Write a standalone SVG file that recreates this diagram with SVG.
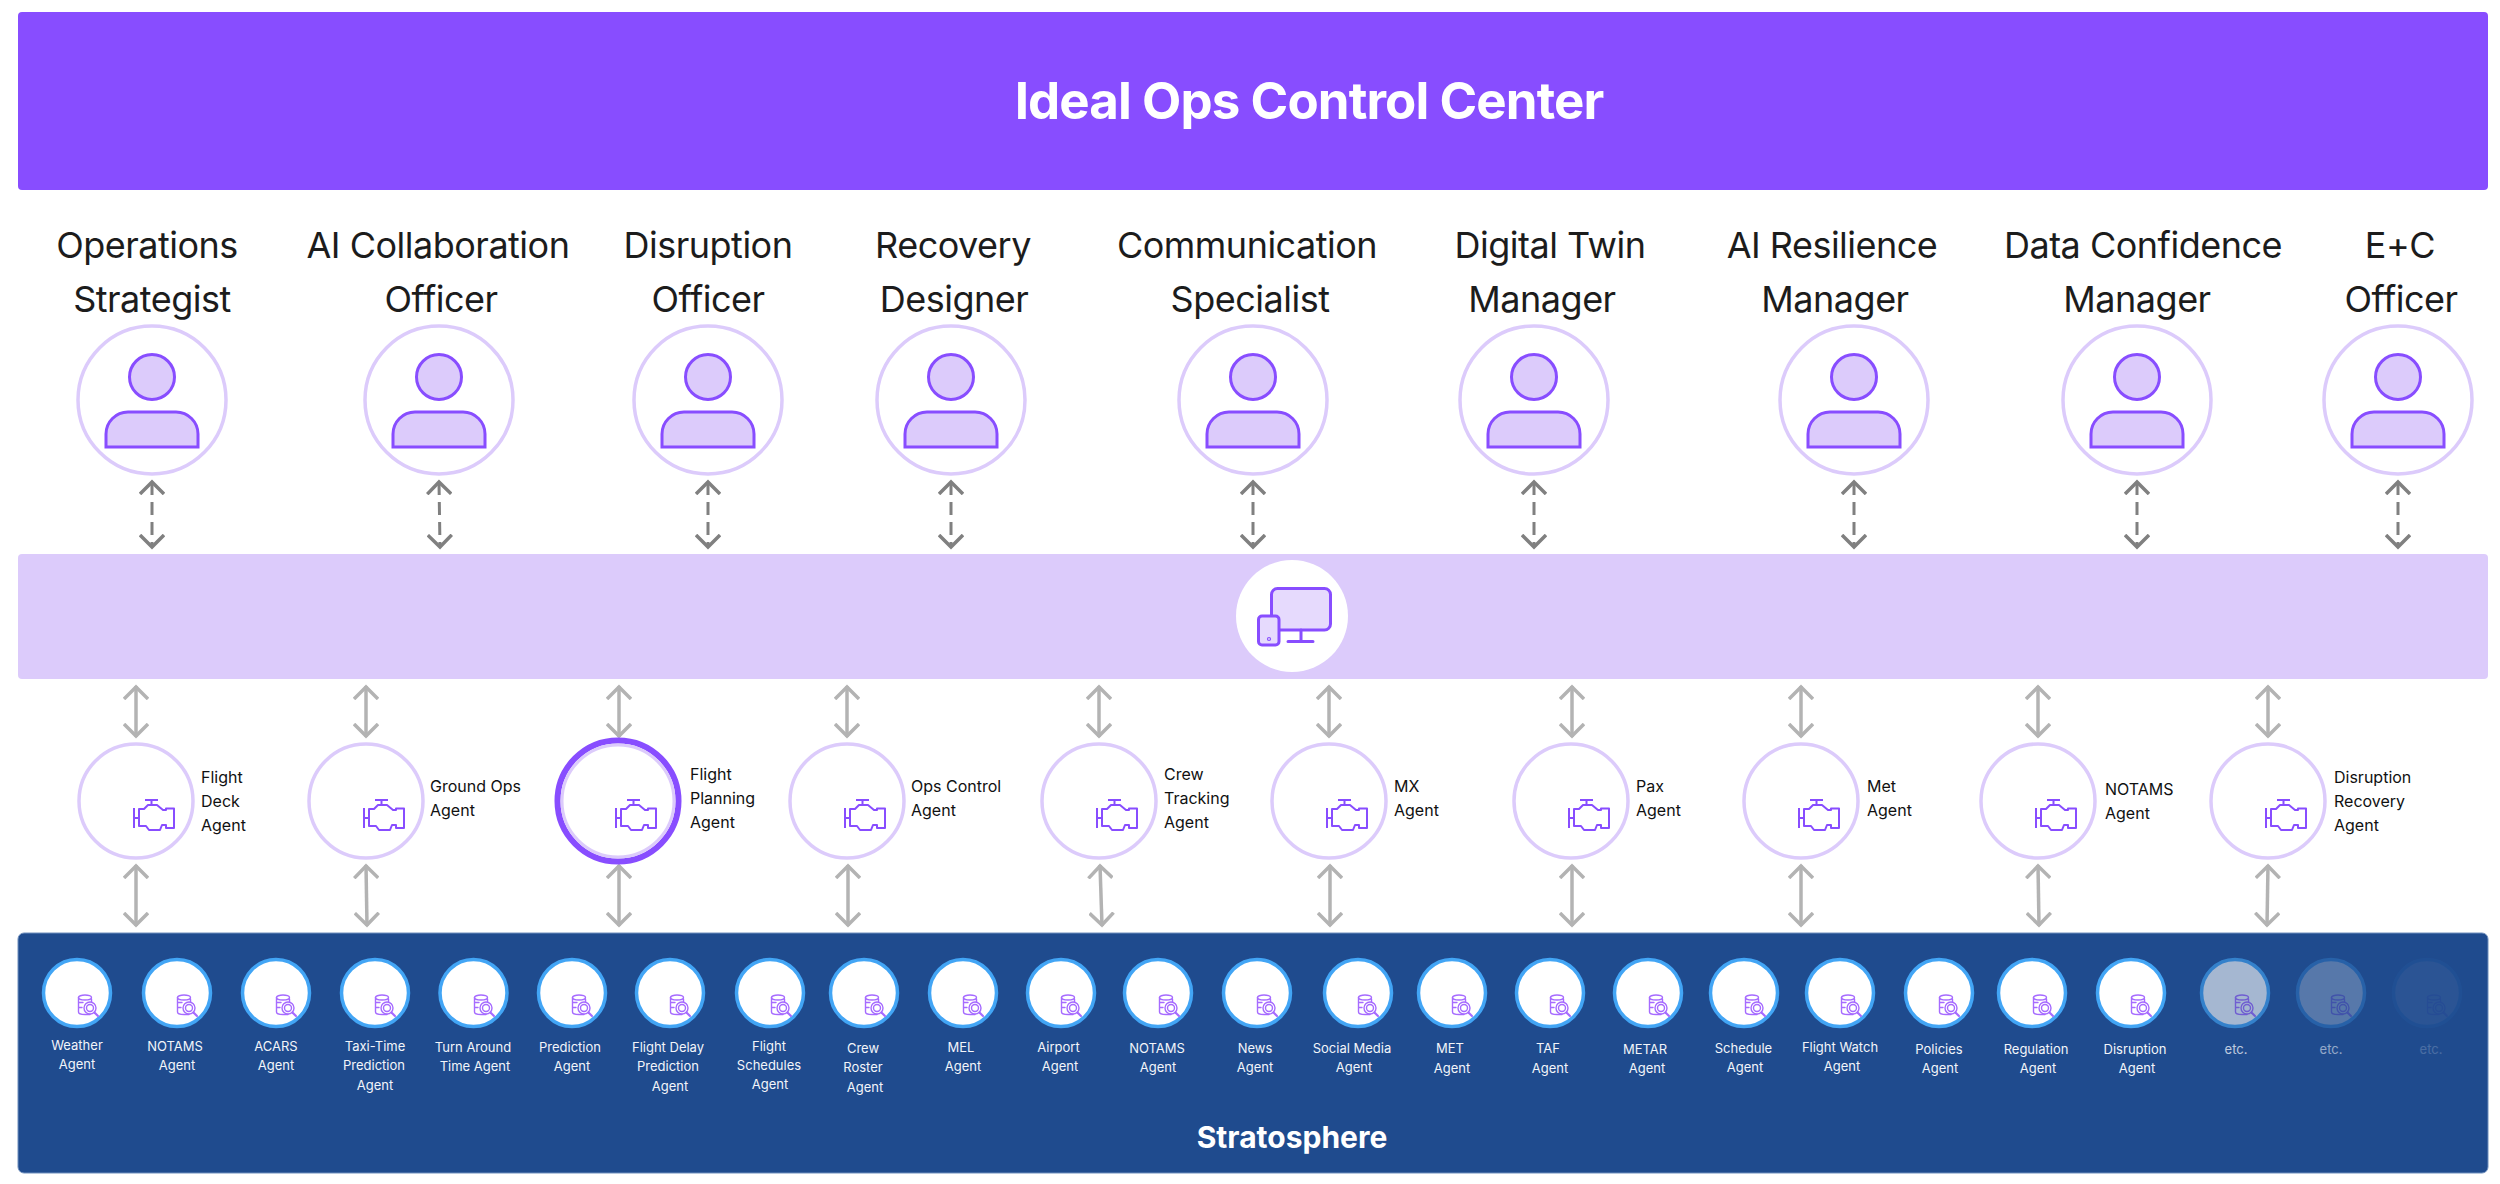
<svg xmlns="http://www.w3.org/2000/svg" width="2500" height="1184" viewBox="0 0 2500 1184">
<style>
text{font-family:Inter,"Noto Sans","Liberation Sans",sans-serif}
.role{font-size:36px;letter-spacing:-0.5px;fill:#1c1c1c;text-anchor:middle}
.ag{font-size:16px;fill:#111}
.sm{font-size:13px;fill:#f2f5fa;text-anchor:middle}
.pc{fill:#fff;stroke:#dccbfb;stroke-width:3.5}
.sc{fill:#fff;stroke:#42a5f5;stroke-width:3.5}
.dash{fill:none;stroke:#808080;stroke-width:3;stroke-dasharray:13 7;marker-start:url(#hd);marker-end:url(#hd)}
.solid{fill:none;stroke:#b3b3b3;stroke-width:3.5;marker-start:url(#hs);marker-end:url(#hs)}
</style>
<defs>
<marker id="hd" viewBox="0 0 16 26" refX="13" refY="13" markerWidth="16" markerHeight="26" markerUnits="userSpaceOnUse" orient="auto-start-reverse"><path d="M1 1 L13 13 L1 25" fill="none" stroke="#808080" stroke-width="3.5"/></marker>
<marker id="hs" viewBox="0 0 16 26" refX="14" refY="13" markerWidth="16" markerHeight="26" markerUnits="userSpaceOnUse" orient="auto-start-reverse"><path d="M1 1 L13 13 L1 25" fill="none" stroke="#b3b3b3" stroke-width="3.5"/></marker>
<g id="person"><circle cx="0" cy="-23" r="22.5" fill="#dccbfb" stroke="#884dff" stroke-width="3"/><path d="M-46 47V34a22 22 0 0 1 22-22H24a22 22 0 0 1 22 22V47Z" fill="#dccbfb" stroke="#884dff" stroke-width="3"/></g>
<g id="engine" fill="none" stroke="#884dff" stroke-width="2" stroke-linejoin="round"><path d="M-1 8V28M-1 18H4M10 0H23M16.5 0V5"/><path d="M4 9H9L13 5H22L28 10H31V8.500H39V28H31V25H27L25 30H14L11 26H4Z"/></g>
<g id="db" transform="translate(-1 0)" fill="none" stroke="#a66bff" stroke-width="1.400" stroke-linecap="round"><ellipse cx="8" cy="3.500" rx="6.500" ry="2.500"/><path d="M1.500 3.500V18Q1.500 20.500 8 20.500H13M14.500 5V8M1.500 8.500H6M1.500 13.500H5"/><circle cx="13" cy="14" r="6"/><circle cx="13" cy="14" r="3.500"/><path d="M17.500 18.500L21 22" stroke-width="2.200"/></g>
</defs>

<g id="header"><rect x="18" y="12" width="2470" height="178" rx="4" fill="#884dff"/><text x="1309" y="119" text-anchor="middle" font-size="51" font-weight="700" letter-spacing="-0.9" fill="#fff">Ideal Ops Control Center</text></g>

<g id="interface"><rect x="18" y="554" width="2470" height="125" rx="4" fill="#dccbfb"/><circle cx="1292" cy="616" r="56" fill="#fff"/>
<g fill="#e6dafd" stroke="#884dff" stroke-width="3"><rect x="1271.500" y="588.500" width="59" height="41.500" rx="6"/><path d="M1301 630V641M1288 641.500H1313" fill="none" stroke-linecap="round"/><rect x="1258.500" y="616" width="20.500" height="29" rx="3.500"/><circle cx="1269" cy="639" r="1.500" fill="none" stroke-width="1.200"/></g></g>

<g id="stratosphere"><rect x="18" y="933" width="2470" height="240" rx="6" fill="#1f4b8e" stroke="#6f8fbd" stroke-width="1"/><text x="1292" y="1148" text-anchor="middle" font-size="30" font-weight="700" fill="#fff">Stratosphere</text></g>

<g id="connectors">
<g class="persona-links">
<path class="dash" d="M152 482V547"/><path class="dash" d="M439 482L440 547"/><path class="dash" d="M708 482V547"/><path class="dash" d="M951 482V547"/><path class="dash" d="M1253 482V547"/><path class="dash" d="M1534 482V547"/><path class="dash" d="M1854 482V547"/><path class="dash" d="M2137 482V547"/><path class="dash" d="M2398 482V547"/>
</g>
<g class="agent-links">
<path class="solid" d="M136 686V737"/><path class="solid" d="M366 686V737"/><path class="solid" d="M619 686V737"/><path class="solid" d="M847 686V737"/><path class="solid" d="M1099 686V737"/><path class="solid" d="M1329 686V737"/><path class="solid" d="M1572 686V737"/><path class="solid" d="M1801 686V737"/><path class="solid" d="M2038 686V737"/><path class="solid" d="M2268 686V737"/>
<path class="solid" d="M136 865V926"/><path class="solid" d="M366 865L367 926"/><path class="solid" d="M619 865V926"/><path class="solid" d="M848 865V926"/><path class="solid" d="M1100 865L1102 926"/><path class="solid" d="M1330 865V926"/><path class="solid" d="M1572 865V926"/><path class="solid" d="M1801 865V926"/><path class="solid" d="M2038 865L2039 926"/><path class="solid" d="M2268 865L2267 926"/>
</g>
</g>

<g id="role-1"><text class="role" x="147" y="258">Operations</text><text class="role" x="152" y="312">Strategist</text><circle class="pc" cx="152" cy="400" r="74"/><use href="#person" x="152" y="400"/></g>
<g id="role-2"><text class="role" x="438" y="258">AI Collaboration</text><text class="role" x="441" y="312">Officer</text><circle class="pc" cx="439" cy="400" r="74"/><use href="#person" x="439" y="400"/></g>
<g id="role-3"><text class="role" x="708" y="258">Disruption</text><text class="role" x="708" y="312">Officer</text><circle class="pc" cx="708" cy="400" r="74"/><use href="#person" x="708" y="400"/></g>
<g id="role-4"><text class="role" x="953" y="258">Recovery</text><text class="role" x="954" y="312">Designer</text><circle class="pc" cx="951" cy="400" r="74"/><use href="#person" x="951" y="400"/></g>
<g id="role-5"><text class="role" x="1247" y="258">Communication</text><text class="role" x="1250" y="312">Specialist</text><circle class="pc" cx="1253" cy="400" r="74"/><use href="#person" x="1253" y="400"/></g>
<g id="role-6"><text class="role" x="1550" y="258">Digital Twin</text><text class="role" x="1542" y="312">Manager</text><circle class="pc" cx="1534" cy="400" r="74"/><use href="#person" x="1534" y="400"/></g>
<g id="role-7"><text class="role" x="1832" y="258">AI Resilience</text><text class="role" x="1835" y="312">Manager</text><circle class="pc" cx="1854" cy="400" r="74"/><use href="#person" x="1854" y="400"/></g>
<g id="role-8"><text class="role" x="2143" y="258">Data Confidence</text><text class="role" x="2137" y="312">Manager</text><circle class="pc" cx="2137" cy="400" r="74"/><use href="#person" x="2137" y="400"/></g>
<g id="role-9"><text class="role" x="2400" y="258">E+C</text><text class="role" x="2401" y="312">Officer</text><circle class="pc" cx="2398" cy="400" r="74"/><use href="#person" x="2398" y="400"/></g>

<g id="agent-1"><circle class="pc" cx="136" cy="801" r="57"/><use href="#engine" x="135" y="800"/><text class="ag" x="201" y="783">Flight</text><text class="ag" x="201" y="807">Deck</text><text class="ag" x="201" y="831">Agent</text></g>
<g id="agent-2"><circle class="pc" cx="366" cy="801" r="57"/><use href="#engine" x="365" y="800"/><text class="ag" x="430" y="792">Ground Ops</text><text class="ag" x="430" y="816">Agent</text></g>
<g id="agent-3"><circle cx="618" cy="801" r="60.500" fill="#fff" stroke="#884dff" stroke-width="6"/><circle cx="618" cy="801" r="56" fill="none" stroke="#dccbfb" stroke-width="3"/><use href="#engine" x="617" y="800"/><text class="ag" x="690" y="780">Flight</text><text class="ag" x="690" y="804">Planning</text><text class="ag" x="690" y="828">Agent</text></g>
<g id="agent-4"><circle class="pc" cx="847" cy="801" r="57"/><use href="#engine" x="846" y="800"/><text class="ag" x="911" y="792">Ops Control</text><text class="ag" x="911" y="816">Agent</text></g>
<g id="agent-5"><circle class="pc" cx="1099" cy="801" r="57"/><use href="#engine" x="1098" y="800"/><text class="ag" x="1164" y="780">Crew</text><text class="ag" x="1164" y="804">Tracking</text><text class="ag" x="1164" y="828">Agent</text></g>
<g id="agent-6"><circle class="pc" cx="1329" cy="801" r="57"/><use href="#engine" x="1328" y="800"/><text class="ag" x="1394" y="792">MX</text><text class="ag" x="1394" y="816">Agent</text></g>
<g id="agent-7"><circle class="pc" cx="1571" cy="801" r="57"/><use href="#engine" x="1570" y="800"/><text class="ag" x="1636" y="792">Pax</text><text class="ag" x="1636" y="816">Agent</text></g>
<g id="agent-8"><circle class="pc" cx="1801" cy="801" r="57"/><use href="#engine" x="1800" y="800"/><text class="ag" x="1867" y="792">Met</text><text class="ag" x="1867" y="816">Agent</text></g>
<g id="agent-9"><circle class="pc" cx="2038" cy="801" r="57"/><use href="#engine" x="2037" y="800"/><text class="ag" x="2105" y="795">NOTAMS</text><text class="ag" x="2105" y="819">Agent</text></g>
<g id="agent-10"><circle class="pc" cx="2268" cy="801" r="57"/><use href="#engine" x="2267" y="800"/><text class="ag" x="2334" y="783">Disruption</text><text class="ag" x="2334" y="807">Recovery</text><text class="ag" x="2334" y="831">Agent</text></g>

<g id="data-1"><circle class="sc" cx="77" cy="993" r="33.500"/><use href="#db" x="78" y="994"/><text class="sm" x="77" y="1050">Weather</text><text class="sm" x="77" y="1069">Agent</text></g>
<g id="data-2"><circle class="sc" cx="177" cy="993" r="33.500"/><use href="#db" x="177" y="994"/><text class="sm" x="175" y="1051">NOTAMS</text><text class="sm" x="177" y="1070">Agent</text></g>
<g id="data-3"><circle class="sc" cx="276" cy="993" r="33.500"/><use href="#db" x="276" y="994"/><text class="sm" x="276" y="1051">ACARS</text><text class="sm" x="276" y="1070">Agent</text></g>
<g id="data-4"><circle class="sc" cx="375" cy="993" r="33.500"/><use href="#db" x="375" y="994"/><text class="sm" x="375" y="1051">Taxi-Time</text><text class="sm" x="374" y="1070">Prediction</text><text class="sm" x="375" y="1090">Agent</text></g>
<g id="data-5"><circle class="sc" cx="473.500" cy="993" r="33.500"/><use href="#db" x="474" y="994"/><text class="sm" x="473" y="1052">Turn Around</text><text class="sm" x="475" y="1071">Time Agent</text></g>
<g id="data-6"><circle class="sc" cx="572" cy="993" r="33.500"/><use href="#db" x="572" y="994"/><text class="sm" x="570" y="1052">Prediction</text><text class="sm" x="572" y="1071">Agent</text></g>
<g id="data-7"><circle class="sc" cx="670" cy="993" r="33.500"/><use href="#db" x="670" y="994"/><text class="sm" x="668" y="1052">Flight Delay</text><text class="sm" x="668" y="1071">Prediction</text><text class="sm" x="670" y="1091">Agent</text></g>
<g id="data-8"><circle class="sc" cx="770" cy="993" r="33.500"/><use href="#db" x="771" y="994"/><text class="sm" x="769" y="1051">Flight</text><text class="sm" x="769" y="1070">Schedules</text><text class="sm" x="770" y="1089">Agent</text></g>
<g id="data-9"><circle class="sc" cx="864" cy="993" r="33.500"/><use href="#db" x="865" y="994"/><text class="sm" x="863" y="1053">Crew</text><text class="sm" x="863" y="1072">Roster</text><text class="sm" x="865" y="1092">Agent</text></g>
<g id="data-10"><circle class="sc" cx="963" cy="993" r="33.500"/><use href="#db" x="963" y="994"/><text class="sm" x="961" y="1052">MEL</text><text class="sm" x="963" y="1071">Agent</text></g>
<g id="data-11"><circle class="sc" cx="1061" cy="993" r="33.500"/><use href="#db" x="1061" y="994"/><text class="sm" x="1058.500" y="1052">Airport</text><text class="sm" x="1060" y="1071">Agent</text></g>
<g id="data-12"><circle class="sc" cx="1158" cy="993" r="33.500"/><use href="#db" x="1159" y="994"/><text class="sm" x="1157" y="1053">NOTAMS</text><text class="sm" x="1158" y="1072">Agent</text></g>
<g id="data-13"><circle class="sc" cx="1257" cy="993" r="33.500"/><use href="#db" x="1257" y="994"/><text class="sm" x="1255" y="1053">News</text><text class="sm" x="1255" y="1072">Agent</text></g>
<g id="data-14"><circle class="sc" cx="1358" cy="993" r="33.500"/><use href="#db" x="1358" y="994"/><text class="sm" x="1352" y="1053">Social Media</text><text class="sm" x="1354" y="1072">Agent</text></g>
<g id="data-15"><circle class="sc" cx="1452" cy="993" r="33.500"/><use href="#db" x="1452" y="994"/><text class="sm" x="1450" y="1053">MET</text><text class="sm" x="1452" y="1073">Agent</text></g>
<g id="data-16"><circle class="sc" cx="1550" cy="993" r="33.500"/><use href="#db" x="1550" y="994"/><text class="sm" x="1548" y="1053">TAF</text><text class="sm" x="1550" y="1073">Agent</text></g>
<g id="data-17"><circle class="sc" cx="1648" cy="993" r="33.500"/><use href="#db" x="1649" y="994"/><text class="sm" x="1645" y="1054">METAR</text><text class="sm" x="1647" y="1073">Agent</text></g>
<g id="data-18"><circle class="sc" cx="1744" cy="993" r="33.500"/><use href="#db" x="1745" y="994"/><text class="sm" x="1743.500" y="1053">Schedule</text><text class="sm" x="1745" y="1072">Agent</text></g>
<g id="data-19"><circle class="sc" cx="1840" cy="993" r="33.500"/><use href="#db" x="1841" y="994"/><text class="sm" x="1840" y="1052">Flight Watch</text><text class="sm" x="1842" y="1071">Agent</text></g>
<g id="data-20"><circle class="sc" cx="1939" cy="993" r="33.500"/><use href="#db" x="1939" y="994"/><text class="sm" x="1939" y="1054">Policies</text><text class="sm" x="1940" y="1073">Agent</text></g>
<g id="data-21"><circle class="sc" cx="2032" cy="993" r="33.500"/><use href="#db" x="2033" y="994"/><text class="sm" x="2036" y="1054">Regulation</text><text class="sm" x="2038" y="1073">Agent</text></g>
<g id="data-22"><circle class="sc" cx="2131" cy="993" r="33.500"/><use href="#db" x="2131" y="994"/><text class="sm" x="2135" y="1054">Disruption</text><text class="sm" x="2137" y="1073">Agent</text></g>
<g id="data-23"><g opacity="0.6"><circle class="sc" cx="2235" cy="993" r="33.500"/><use href="#db" x="2235" y="994"/></g><text class="sm" x="2236" y="1054" opacity="0.75">etc.</text></g>
<g id="data-24"><g opacity="0.25"><circle class="sc" cx="2331" cy="993" r="33.500"/><use href="#db" x="2331" y="994"/></g><text class="sm" x="2331" y="1054" opacity="0.55">etc.</text></g>
<g id="data-25"><g opacity="0.05"><circle class="sc" cx="2427" cy="993" r="33.500"/><use href="#db" x="2427" y="994"/></g><text class="sm" x="2431" y="1054" opacity="0.2">etc.</text></g>
</svg>
